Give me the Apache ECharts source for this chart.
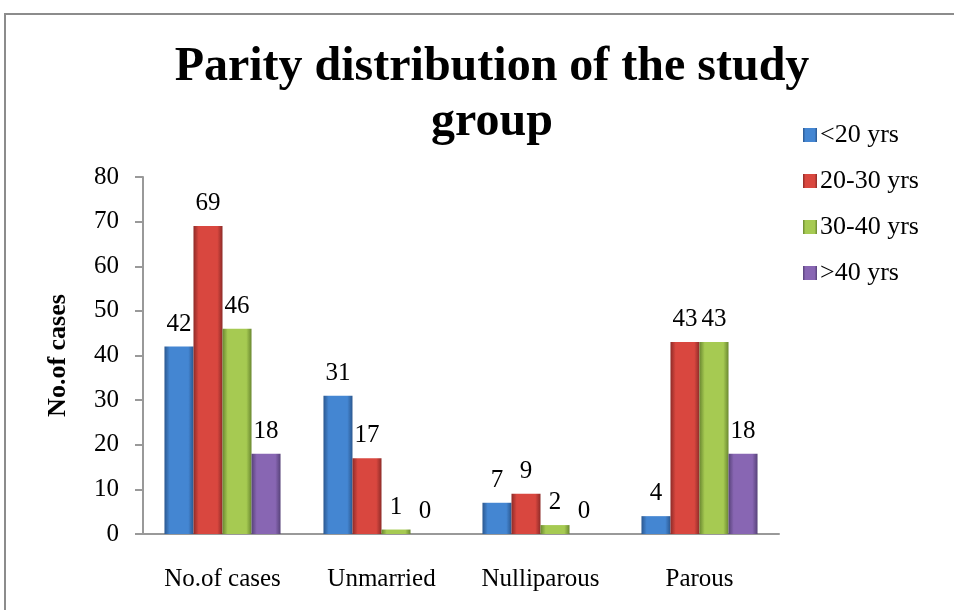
<!DOCTYPE html>
<html>
<head>
<meta charset="UTF-8"/>
<title>Parity distribution</title>
<script src="https://cdn.jsdelivr.net/npm/echarts@6/dist/echarts.min.js"></script>
<style>
  html, body { margin: 0; padding: 0; background: #fff; }
  #chart { width: 954px; height: 610px; }
</style>
</head>
<body>
<div id="chart"></div>
<script>
// categories and series values
var categories = ['No.of cases', 'Unmarried', 'Nulliparous', 'Parous'];
var seriesNames = ['<20 yrs', '20-30 yrs', '30-40 yrs', '>40 yrs'];
var under20 = [42, 31, 7, 4];
var age20to30 = [69, 17, 9, 43];
var age30to40 = [46, 1, 2, 43];
var over40 = [18, 0, 0, 18];
var yTicks = [0, 10, 20, 30, 40, 50, 60, 70, 80];

var serif = '"Liberation Serif", "Times New Roman", serif';
// edge / centre shades for the bevelled look
var baseColors = [
  ['#2b5890', '#4486d2', '#2b5890'],
  ['#8e2b28', '#d9473f', '#8e2b28'],
  ['#6a8830', '#a6ca52', '#6a8830'],
  ['#574279', '#8866b3', '#574279']
];

function barColor(i) {
  var c = baseColors[i];
  return new echarts.graphic.LinearGradient(0, 0, 1, 0, [
    { offset: 0, color: c[0] },
    { offset: 0.18, color: c[1] },
    { offset: 0.82, color: c[1] },
    { offset: 1, color: c[2] }
  ]);
}

var allValues = [under20, age20to30, age30to40, over40];

var chart = echarts.init(document.getElementById('chart'));
var option = {
  backgroundColor: '#fff',
  animation: false,
  color: baseColors.map(function (c) { return c[1]; }),
  title: {
    text: 'Parity distribution of the study\ngroup',
    left: 487,
    top: 35,
    textAlign: 'center',
    textStyle: {
      fontFamily: serif,
      fontWeight: 'bold',
      fontSize: 48,
      lineHeight: 55,
      color: '#000'
    }
  },
  legend: {
    orient: 'vertical',
    left: 798,
    top: 117,
    itemGap: 20,
    itemWidth: 14,
    itemHeight: 14,
    icon: 'rect',
    data: seriesNames,
    textStyle: { fontFamily: serif, fontSize: 26, color: '#000', padding: [0, 0, 0, -2] }
  },
  grid: { left: 143, right: 175, top: 177, bottom: 76 },
  xAxis: {
    type: 'category',
    data: categories,
    axisLine: { lineStyle: { color: '#999', width: 2 } },
    axisTick: { show: false },
    axisLabel: { fontFamily: serif, fontSize: 25, color: '#000', margin: 33 }
  },
  yAxis: {
    type: 'value',
    min: yTicks[0],
    max: yTicks[yTicks.length - 1],
    interval: 10,
    name: 'No.of cases',
    nameLocation: 'middle',
    nameGap: 72,
    nameTextStyle: { fontFamily: serif, fontSize: 26, fontWeight: 'bold', color: '#000' },
    axisLine: { show: true, lineStyle: { color: '#999', width: 2 } },
    axisTick: { show: true, length: 8, lineStyle: { color: '#999', width: 2 } },
    splitLine: { show: false },
    axisLabel: { fontFamily: serif, fontSize: 25, color: '#000', margin: 24 }
  },
  series: seriesNames.map(function (name, i) {
    return {
      name: name,
      type: 'bar',
      data: allValues[i],
      barGap: '0%',
      barCategoryGap: '27%',
      itemStyle: { color: barColor(i) },
      label: {
        show: true,
        position: 'top',
        distance: 10,
        fontFamily: serif,
        fontSize: 25,
        color: '#000'
      }
    };
  }),
  graphic: [{
    type: 'rect',
    shape: { x: 5, y: 14, width: 1000, height: 700 },
    style: { fill: 'none', stroke: '#8c8c8c', lineWidth: 2 },
    silent: true,
    z: -1
  }]
};
chart.setOption(option);
</script>
</body>
</html>
